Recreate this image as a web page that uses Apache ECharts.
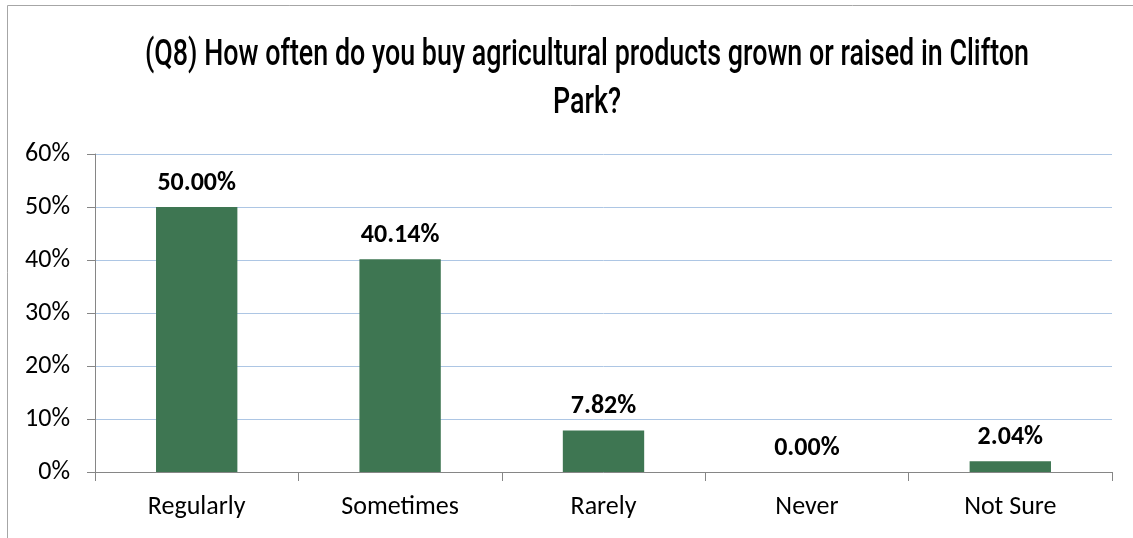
<!DOCTYPE html>
<html>
<head>
<meta charset="utf-8">
<script src="https://cdn.jsdelivr.net/npm/echarts@6/dist/echarts.min.js"></script>
<style>
  html, body { margin: 0; padding: 0; background: #fff; }
  #chart { width: 1133px; height: 538px; }
</style>
</head>
<body>
<div id="chart"></div>
<script>
// Survey answers for Q8 (share of respondents, in percent)
const categories = ['Regularly', 'Sometimes', 'Rarely', 'Never', 'Not Sure'];
const shares = [50.00, 40.14, 7.82, 0.00, 2.04];
const titleLines = [
  '(Q8) How often do you buy agricultural products grown or raised in Clifton',
  'Park?'
];

const bodyFont = 'Carlito, Lato, "Liberation Sans", sans-serif';
const titleFont = '500 37px Roboto, "DejaVu Sans", sans-serif';

// The heading uses a condensed face; squeeze a regular face horizontally
// so the first line spans the intended width.
const measureCtx = document.createElement('canvas').getContext('2d');
measureCtx.font = titleFont;
const titleScaleX = 884 / measureCtx.measureText(titleLines[0]).width;

const titleGraphics = titleLines.map((line, i) => ({
  type: 'text',
  x: 587,
  y: 56 + i * 48,
  scaleX: titleScaleX,
  silent: true,
  style: {
    text: line,
    font: titleFont,
    fill: '#000000',
    align: 'center',
    verticalAlign: 'middle'
  }
}));

const chart = echarts.init(document.getElementById('chart'), null, { renderer: 'canvas' });
chart.setOption({
  animation: false,
  backgroundColor: '#ffffff',
  graphic: [{
    type: 'rect',
    shape: { x: 7.5, y: 5.5, width: 1300, height: 700 },
    style: { fill: 'none', stroke: '#a6a6a6', lineWidth: 1 },
    silent: true
  }].concat(titleGraphics),
  grid: { left: 95, right: 21, top: 154, bottom: 66, containLabel: false },
  xAxis: {
    type: 'category',
    data: categories,
    axisLine: { show: true, lineStyle: { color: '#868686', width: 1 } },
    axisTick: { show: true, length: 9, alignWithLabel: false, lineStyle: { color: '#868686' } },
    axisLabel: { margin: 22, fontFamily: bodyFont, fontSize: 26, color: '#000000' },
    splitLine: { show: false }
  },
  yAxis: {
    type: 'value',
    min: 0,
    max: 60,
    interval: 10,
    axisLine: { show: true, lineStyle: { color: '#868686', width: 1 } },
    axisTick: { show: true, length: 8, lineStyle: { color: '#868686' } },
    axisLabel: {
      margin: 25,
      fontFamily: bodyFont,
      fontSize: 26,
      color: '#000000',
      formatter: v => v + '%'
    },
    splitLine: { show: true, lineStyle: { color: '#adc6e4', width: 1 } }
  },
  series: [{
    type: 'bar',
    data: shares,
    barWidth: '40%',
    itemStyle: { color: '#3e7652' },
    label: {
      show: true,
      position: 'top',
      distance: 11,
      fontFamily: bodyFont,
      fontWeight: 'bold',
      fontSize: 26,
      color: '#000000',
      formatter: p => p.value.toFixed(2) + '%'
    }
  }]
});
</script>
</body>
</html>
